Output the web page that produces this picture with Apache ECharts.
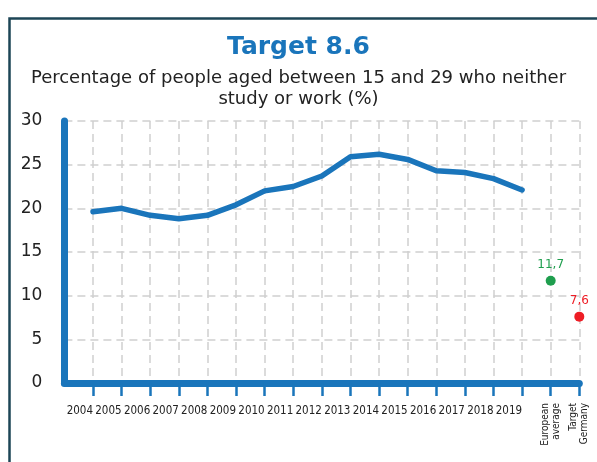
<!DOCTYPE html>
<html>
<head>
<meta charset="utf-8">
<script src="https://cdn.jsdelivr.net/npm/echarts@6/dist/echarts.min.js"></script>
<style>
html,body{margin:0;padding:0;background:#fff;}
#chart{width:597px;height:462px;}
</style>
</head>
<body>
<div id="chart"></div>
<script>
var years = ['2004','2005','2006','2007','2008','2009','2010','2011','2012','2013','2014','2015','2016','2017','2018','2019'];
var extraCategories = ['European\naverage', 'Target\nGermany'];
var neetValues = [19.6, 20.0, 19.2, 18.8, 19.2, 20.4, 22.0, 22.5, 23.7, 25.9, 26.2, 25.6, 24.3, 24.1, 23.4, 22.1];
var europeanAverage = 11.7;
var targetGermany = 7.6;
var yTicks = [0, 5, 10, 15, 20, 25, 30];
var titleText = 'Target 8.6';
var subtitleText = 'Percentage of people aged between 15 and 29 who neither\nstudy or work (%)';

var blue = '#1a75bb';
var cats = [''].concat(years, extraCategories);
var n = cats.length;
var lineData = [null].concat(neetValues, [null, null]);
var euData = cats.map(function (c, i) { return i === n - 2 ? europeanAverage : null; });
var tgData = cats.map(function (c, i) { return i === n - 1 ? targetGermany : null; });
var labelFont = 'DejaVu Sans Condensed, DejaVu Sans, sans-serif';

var chart = echarts.init(document.getElementById('chart'), null, {renderer: 'canvas'});
chart.setOption({
  animation: false,
  backgroundColor: '#fff',
  graphic: [{
    type: 'rect', left: 7, top: 16, shape: {x: 0, y: 0, width: 600, height: 460},
    style: {fill: 'none', stroke: '#1d4556', lineWidth: 2.5}, z: 0
  }],
  title: [{
    text: titleText, left: 'center', top: 30,
    textStyle: {color: blue, fontSize: 25, fontWeight: 'bold', fontFamily: 'DejaVu Sans'}
  }, {
    text: subtitleText, left: 'center', top: 63,
    textStyle: {color: '#222', fontSize: 18, fontWeight: 'normal', fontFamily: 'DejaVu Sans', lineHeight: 21, align: 'center'}
  }],
  grid: {left: 64.4, right: 17.7, top: 121, bottom: 79, containLabel: false},
  xAxis: [{
    type: 'category', data: cats, boundaryGap: false, position: 'bottom',
    axisLine: {show: true, lineStyle: {color: blue, width: 7, cap: 'round'}},
    axisTick: {show: true, length: 13, interval: function (i) { return i > 0; }, lineStyle: {color: blue, width: 2.5}},
    axisLabel: {
      interval: 0, showMinLabel: true, showMaxLabel: true, hideOverlap: false,
      formatter: function (v) { return years.indexOf(v) >= 0 ? v : ''; },
      align: 'right', margin: 22, color: '#222', fontSize: 11.5,
      fontFamily: labelFont
    },
    splitLine: {show: true, interval: 0, lineStyle: {color: '#cfcfcf', type: [8, 5], width: 1.5}}
  }, {
    type: 'category', data: cats, boundaryGap: false, position: 'bottom',
    axisLine: {show: false}, axisTick: {show: false}, splitLine: {show: false},
    axisLabel: {
      interval: 0, showMinLabel: true, showMaxLabel: true, hideOverlap: false,
      formatter: function (v) { return extraCategories.indexOf(v) >= 0 ? v : ''; },
      rotate: 90, margin: 20, color: '#222', fontSize: 10, lineHeight: 11,
      padding: [0, 0, 12, 0],
      fontFamily: labelFont
    }
  }],
  yAxis: {
    type: 'value', min: 0, max: 30, interval: 5, offset: 0,
    axisLine: {show: true, lineStyle: {color: blue, width: 7, cap: 'round'}},
    axisTick: {show: false},
    axisLabel: {margin: 22, color: '#222', fontSize: 17, fontFamily: 'DejaVu Sans'},
    splitLine: {show: true, lineStyle: {color: '#cfcfcf', type: [8, 5], width: 1.5}}
  },
  series: [{
    type: 'line', data: lineData, xAxisIndex: 0, showSymbol: false, symbol: 'none',
    lineStyle: {color: blue, width: 5.5, cap: 'round', join: 'round'}, connectNulls: false, z: 3
  }, {
    type: 'scatter', data: euData, xAxisIndex: 0, symbolSize: 10,
    itemStyle: {color: '#1f9e4e', opacity: 1},
    label: {show: true, position: 'top', distance: 5, color: '#1f9e4e', fontSize: 12,
      fontFamily: 'DejaVu Sans', formatter: function (p) { return String(p.value).replace('.', ','); }}
  }, {
    type: 'scatter', data: tgData, xAxisIndex: 0, symbolSize: 10,
    itemStyle: {color: '#ee1d25', opacity: 1},
    label: {show: true, position: 'top', distance: 5, color: '#ee1d25', fontSize: 12,
      fontFamily: 'DejaVu Sans', formatter: function (p) { return String(p.value).replace('.', ','); }}
  }]
});
</script>
</body>
</html>
